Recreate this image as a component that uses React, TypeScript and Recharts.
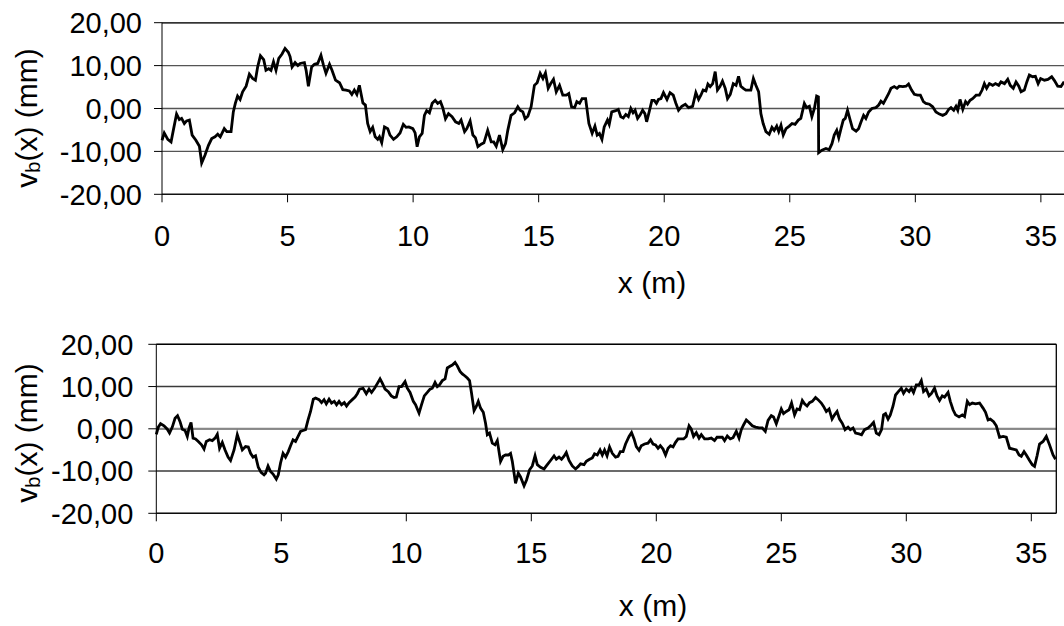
import React from "react";
import {
  LineChart,
  Line,
  XAxis,
  YAxis,
  CartesianGrid,
  ReferenceLine,
} from "recharts";

const xTicks = [0, 5, 10, 15, 20, 25, 30, 35];
const yTicks = [-20, -10, 0, 10, 20];

// upper profile, x in m, v_b in mm
const topX = [
  0.0, 0.09, 0.23, 0.36, 0.45, 0.58, 0.69, 0.78, 0.89, 0.98,
  1.09, 1.2, 1.35, 1.49, 1.58, 1.71, 1.85, 1.98, 2.11, 2.22,
  2.32, 2.48, 2.58, 2.75, 2.84, 2.92, 3.01, 3.11, 3.21, 3.35,
  3.48, 3.61, 3.72, 3.81, 3.92, 4.05, 4.14, 4.25, 4.34, 4.44,
  4.54, 4.65, 4.78, 4.9, 5.03, 5.1, 5.18, 5.3, 5.41, 5.5,
  5.67, 5.74, 5.83, 5.96, 6.07, 6.2, 6.33, 6.43, 6.53, 6.67,
  6.77, 6.91, 7.07, 7.2, 7.33, 7.46, 7.56, 7.66, 7.76, 7.86,
  8.0, 8.1, 8.19, 8.29, 8.39, 8.49, 8.59, 8.66, 8.75, 8.86,
  8.99, 9.08, 9.22, 9.35, 9.48, 9.61, 9.72, 9.83, 9.99, 10.08,
  10.16, 10.25, 10.36, 10.45, 10.54, 10.65, 10.76, 10.88, 10.98, 11.09,
  11.18, 11.29, 11.41, 11.55, 11.69, 11.82, 11.91, 12.05, 12.14, 12.27,
  12.38, 12.48, 12.58, 12.71, 12.82, 12.97, 13.11, 13.21, 13.31, 13.44,
  13.57, 13.68, 13.77, 13.9, 14.04, 14.17, 14.26, 14.37, 14.46, 14.57,
  14.7, 14.83, 14.94, 15.06, 15.17, 15.27, 15.38, 15.47, 15.59, 15.7,
  15.83, 15.96, 16.1, 16.2, 16.31, 16.43, 16.52, 16.63, 16.73, 16.87,
  17.0, 17.13, 17.24, 17.33, 17.42, 17.52, 17.61, 17.74, 17.81, 17.91,
  18.07, 18.17, 18.27, 18.37, 18.47, 18.57, 18.67, 18.76, 18.84, 18.94,
  19.03, 19.14, 19.23, 19.3, 19.4, 19.51, 19.6, 19.69, 19.77, 19.87,
  19.97, 20.11, 20.23, 20.36, 20.46, 20.57, 20.7, 20.84, 20.97, 21.13,
  21.26, 21.37, 21.46, 21.55, 21.66, 21.74, 21.83, 21.93, 22.03, 22.12,
  22.22, 22.32, 22.43, 22.52, 22.63, 22.75, 22.86, 22.96, 23.05, 23.15,
  23.25, 23.45, 23.55, 23.65, 23.76, 23.85, 23.94, 24.05, 24.18, 24.29,
  24.38, 24.48, 24.56, 24.65, 24.74, 24.85, 24.98, 25.09, 25.21, 25.34,
  25.44, 25.58, 25.67, 25.78, 25.88, 25.98, 26.07, 26.14, 26.15, 26.28,
  26.44, 26.57, 26.68, 26.77, 26.87, 26.95, 27.04, 27.13, 27.21, 27.3,
  27.4, 27.5, 27.64, 27.74, 27.84, 27.94, 28.03, 28.14, 28.27, 28.43,
  28.54, 28.63, 28.73, 28.83, 28.94, 29.03, 29.16, 29.27, 29.36, 29.5,
  29.63, 29.73, 29.85, 29.96, 30.09, 30.2, 30.32, 30.42, 30.56, 30.69,
  30.82, 30.96, 31.09, 31.22, 31.33, 31.42, 31.53, 31.62, 31.69, 31.78,
  31.89, 32.0, 32.08, 32.18, 32.28, 32.42, 32.55, 32.66, 32.75, 32.84,
  32.95, 33.08, 33.19, 33.32, 33.41, 33.55, 33.68, 33.78, 33.9, 34.01,
  34.12, 34.21, 34.34, 34.44, 34.54, 34.67, 34.78, 34.89, 34.99, 35.14,
  35.28, 35.43, 35.54, 35.67, 35.8, 35.9, 36.0,
];
const topV = [
  -7.4, -5.7, -7.2, -7.8, -5.1, -1.3, -2.6, -2.3, -3.5, -2.9,
  -2.7, -6.2, -7.4, -8.8, -12.7, -10.9, -8.6, -7.0, -6.6, -6.0,
  -6.6, -4.7, -5.4, -5.4, -0.8, 1.2, 2.9, 2.1, 3.9, 5.2,
  8.0, 7.0, 6.6, 9.7, 12.3, 11.4, 8.9, 9.3, 8.9, 10.9,
  8.9, 11.7, 12.7, 14.0, 13.1, 12.1, 9.7, 10.7, 10.0, 10.5,
  10.7, 8.9, 5.2, 9.7, 10.3, 10.5, 12.4, 10.1, 8.2, 10.3,
  8.9, 6.6, 6.0, 4.4, 4.3, 4.1, 3.3, 4.3, 3.3, 5.4,
  1.3, 0.8, -3.5, -5.4, -4.4, -6.6, -7.2, -6.6, -8.0, -4.3,
  -4.7, -6.2, -7.2, -6.6, -5.7, -3.7, -4.4, -4.3, -4.7, -5.7,
  -8.9, -6.6, -5.8, -1.6, -0.5, -1.0, 1.2, 1.9, 1.2, 1.6,
  0.2, -2.4, -1.2, -1.9, -3.1, -3.5, -2.7, -5.4, -4.7, -2.9,
  -6.2, -6.8, -8.9, -8.3, -8.0, -5.1, -7.8, -7.8, -8.8, -6.2,
  -9.6, -8.2, -5.1, -1.6, -1.0, 0.4, -0.4, -0.8, -2.4, -1.8,
  0.4, 5.4, 6.0, 8.2, 7.0, 8.3, 4.7, 5.7, 6.8, 3.9,
  5.4, 3.1, 3.1, 3.5, 0.4, 0.2, 1.6, 1.2, 2.3, 2.3,
  -3.5, -5.8, -4.1, -6.2, -5.8, -7.2, -4.3, -2.7, -3.7, -0.8,
  -0.5, -0.2, -1.9, -2.2, -1.4, -1.9, 0.0, -1.0, -0.4, -2.3,
  -1.6, -0.4, -1.2, -3.1, -0.8, 1.9, 1.9, 1.2, 2.1, 2.3,
  3.7, 2.1, 3.7, 3.1, 1.3, -0.4, 0.5, 1.0, 0.2, 0.5,
  3.7, 2.1, 3.1, 4.3, 4.1, 5.7, 5.1, 5.8, 8.6, 4.3,
  5.1, 6.4, 4.7, 2.3, 3.3, 5.8, 5.4, 7.5, 5.2, 4.7,
  4.3, 4.3, 7.0, 5.4, 3.9, -1.2, -3.5, -5.4, -6.0, -4.4,
  -5.1, -4.1, -5.4, -3.9, -6.2, -4.7, -4.1, -3.5, -3.7, -2.7,
  -2.3, 1.2, 0.2, 0.5, -1.9, 0.0, 2.9, 2.7, -10.3, -9.7,
  -9.3, -9.6, -8.2, -6.2, -5.1, -6.8, -4.7, -2.7, -2.3, -0.4,
  -2.6, -4.7, -5.3, -4.7, -3.1, -1.6, -2.3, -0.8, 0.0, 0.2,
  0.8, 1.7, 1.2, 2.3, 3.5, 4.7, 5.1, 4.7, 5.2, 5.1,
  5.2, 5.7, 4.3, 3.3, 3.1, 3.1, 1.6, 1.2, 1.0, 0.4,
  -0.8, -1.3, -1.6, -1.2, -0.2, 0.2, -0.4, 0.5, -0.4, 2.1,
  -0.2, 1.6, 1.0, 1.9, 2.3, 3.1, 3.1, 4.3, 5.8, 4.7,
  5.8, 5.4, 5.8, 5.4, 6.2, 5.8, 6.8, 5.4, 4.7, 6.2,
  5.2, 3.9, 4.3, 6.2, 7.8, 7.4, 7.5, 5.8, 7.0, 6.6,
  6.8, 7.4, 6.5, 5.2, 5.1, 6.0, 5.8,
];

// lower profile
const bottomX = [
  0.0, 0.08, 0.17, 0.31, 0.44, 0.53, 0.64, 0.75, 0.85, 0.95,
  1.04, 1.15, 1.24, 1.31, 1.39, 1.47, 1.57, 1.68, 1.81, 1.91,
  2.0, 2.13, 2.24, 2.35, 2.44, 2.53, 2.64, 2.75, 2.87, 2.97,
  3.11, 3.24, 3.35, 3.44, 3.57, 3.68, 3.77, 3.87, 3.97, 4.08,
  4.19, 4.31, 4.37, 4.47, 4.57, 4.67, 4.8, 4.88, 4.97, 5.07,
  5.17, 5.28, 5.37, 5.47, 5.57, 5.67, 5.77, 5.87, 5.97, 6.07,
  6.17, 6.28, 6.37, 6.51, 6.61, 6.71, 6.8, 6.91, 7.01, 7.12,
  7.21, 7.31, 7.41, 7.52, 7.61, 7.71, 7.84, 7.95, 8.04, 8.13,
  8.27, 8.4, 8.51, 8.61, 8.73, 8.84, 8.95, 9.04, 9.15, 9.28,
  9.4, 9.51, 9.6, 9.71, 9.81, 9.95, 10.04, 10.15, 10.28, 10.37,
  10.51, 10.61, 10.72, 10.84, 10.95, 11.04, 11.15, 11.24, 11.33, 11.44,
  11.55, 11.64, 11.75, 11.84, 11.95, 12.04, 12.15, 12.24, 12.35, 12.44,
  12.53, 12.61, 12.71, 12.8, 12.88, 12.97, 13.08, 13.17, 13.24, 13.33,
  13.44, 13.55, 13.64, 13.77, 13.87, 13.97, 14.08, 14.17, 14.24, 14.37,
  14.48, 14.57, 14.71, 14.81, 14.93, 15.04, 15.15, 15.24, 15.37, 15.51,
  15.64, 15.77, 15.91, 16.0, 16.11, 16.21, 16.31, 16.4, 16.51, 16.64,
  16.77, 16.88, 16.97, 17.11, 17.2, 17.33, 17.44, 17.53, 17.64, 17.75,
  17.84, 17.93, 18.03, 18.13, 18.24, 18.37, 18.47, 18.56, 18.67, 18.77,
  18.91, 19.01, 19.11, 19.2, 19.31, 19.4, 19.53, 19.67, 19.77, 19.87,
  19.97, 20.07, 20.16, 20.27, 20.37, 20.47, 20.57, 20.67, 20.77, 20.87,
  20.97, 21.09, 21.2, 21.31, 21.4, 21.49, 21.6, 21.71, 21.8, 21.93,
  22.07, 22.2, 22.33, 22.43, 22.53, 22.64, 22.73, 22.84, 22.96, 23.07,
  23.2, 23.31, 23.4, 23.49, 23.6, 23.71, 23.84, 23.97, 24.11, 24.24,
  24.36, 24.47, 24.6, 24.69, 24.8, 24.91, 25.0, 25.09, 25.2, 25.31,
  25.41, 25.53, 25.63, 25.73, 25.84, 25.93, 26.03, 26.13, 26.24, 26.37,
  26.47, 26.6, 26.69, 26.8, 26.91, 27.03, 27.13, 27.23, 27.33, 27.44,
  27.55, 27.67, 27.76, 27.87, 27.97, 28.11, 28.21, 28.33, 28.47, 28.6,
  28.69, 28.8, 28.91, 29.01, 29.09, 29.17, 29.27, 29.36, 29.47, 29.57,
  29.68, 29.8, 29.89, 30.0, 30.11, 30.2, 30.29, 30.4, 30.51, 30.6,
  30.69, 30.8, 30.91, 31.0, 31.13, 31.23, 31.33, 31.44, 31.53, 31.67,
  31.76, 31.87, 31.97, 32.11, 32.24, 32.33, 32.44, 32.53, 32.64, 32.77,
  32.93, 33.07, 33.17, 33.27, 33.36, 33.49, 33.6, 33.73, 33.87, 34.0,
  34.13, 34.27, 34.4, 34.51, 34.6, 34.71, 34.8, 34.93, 35.04, 35.13,
  35.23, 35.33, 35.47, 35.6, 35.73, 35.87, 35.97,
];
const bottomV = [
  -1.3, 0.4, 1.2, 0.7, -0.1, -1.0, 0.4, 2.5, 3.1, 1.7,
  -0.1, -0.4, -1.8, 0.2, 1.5, -2.2, -2.4, -3.0, -3.8, -4.8,
  -3.0, -2.6, -2.8, -2.2, -1.3, -4.6, -3.2, -5.0, -6.7, -7.5,
  -5.0, -1.4, -3.4, -5.0, -4.2, -4.3, -5.8, -6.7, -6.4, -9.1,
  -10.3, -10.9, -10.5, -8.8, -10.1, -10.7, -11.9, -10.9, -8.1, -5.8,
  -6.7, -5.4, -4.0, -2.6, -3.0, -1.8, -0.6, -0.4, -0.2, 2.1,
  4.1, 7.0, 7.3, 6.9, 6.2, 6.9, 5.9, 7.0, 6.1, 6.5,
  5.7, 6.5, 5.7, 6.2, 5.4, 6.2, 6.9, 7.5, 8.3, 9.4,
  9.6, 8.3, 9.4, 8.6, 9.6, 10.7, 11.8, 10.8, 9.4, 8.8,
  7.8, 7.4, 7.5, 10.0, 10.0, 11.2, 9.6, 8.6, 6.5, 5.7,
  3.7, 5.7, 7.8, 8.6, 9.4, 9.6, 11.0, 10.0, 10.4, 11.4,
  11.8, 14.4, 14.8, 15.1, 15.7, 14.9, 13.6, 13.0, 12.5, 12.0,
  11.4, 8.4, 4.3, 5.3, 6.5, 4.9, 3.9, 1.3, -1.4, -1.0,
  -3.4, -3.8, -2.8, -7.7, -6.5, -6.2, -6.2, -5.8, -7.7, -12.9,
  -10.5, -11.4, -13.5, -12.1, -9.7, -8.8, -6.4, -8.5, -9.1, -9.5,
  -8.5, -7.5, -6.4, -7.2, -6.7, -7.2, -6.5, -5.6, -7.5, -8.8,
  -9.5, -8.9, -8.3, -8.5, -7.7, -7.2, -6.9, -5.9, -6.2, -5.0,
  -6.2, -5.0, -6.4, -4.3, -5.8, -6.7, -6.5, -5.4, -5.4, -3.6,
  -1.8, -0.9, -2.4, -4.2, -5.1, -4.0, -3.6, -3.4, -2.6, -3.6,
  -3.8, -4.6, -4.0, -4.8, -6.2, -4.6, -4.0, -4.3, -3.2, -2.4,
  -2.4, -2.4, -1.8, 0.7, -0.1, -1.8, -0.9, -2.2, -1.4, -2.4,
  -2.4, -2.2, -2.8, -2.0, -2.0, -2.0, -2.8, -1.7, -2.4, -2.1,
  -0.6, -2.2, -0.2, 0.9, 2.1, 1.5, 0.7, 0.4, 0.2, 0.2,
  -0.6, 2.0, 3.1, 2.8, 1.2, 3.1, 4.7, 3.6, 4.1, 4.5,
  6.1, 3.3, 4.7, 4.5, 6.7, 5.9, 5.4, 6.2, 6.5, 7.4,
  6.9, 6.1, 5.3, 4.1, 4.7, 2.3, 3.3, 4.1, 2.3, 1.3,
  -0.2, 0.4, -0.2, 0.2, -1.0, -1.2, -1.4, -0.2, 0.2, 0.9,
  1.5, -1.0, -1.4, -0.2, 3.3, 3.6, 2.3, 3.3, 5.4, 8.0,
  8.8, 9.6, 8.4, 9.4, 8.8, 9.6, 8.6, 10.4, 10.4, 11.4,
  8.8, 9.4, 7.8, 8.3, 9.6, 7.8, 6.7, 7.8, 7.5, 8.6,
  6.5, 4.5, 3.3, 2.8, 3.3, 2.9, 6.5, 5.7, 6.1, 5.9,
  6.1, 4.9, 3.9, 2.1, 2.3, 1.7, 0.7, -2.0, -1.8, -2.0,
  -4.6, -4.8, -5.0, -6.2, -6.5, -5.4, -6.2, -7.5, -8.5, -8.9,
  -6.4, -3.6, -3.0, -1.8, -3.8, -6.2, -7.2,
];

const FONT = "'Liberation Sans', Arial, sans-serif";
const FS = 29;
const TITLE_FS = 30;

const fmt = (v: number) => v.toFixed(2).replace(".", ",");
const toRows = (xs: number[], vs: number[]) =>
  xs.map((x, i) => ({ x, v: vs[i] }));

const topRows = toRows(topX, topV);
const bottomRows = toRows(bottomX, bottomV);

const tickStyle = { fill: "#000", fontSize: FS, fontFamily: FONT };

const xTitle = (x: number, y: number) => () =>
  (
    <text x={x} y={y} textAnchor="middle" fontSize={TITLE_FS} fontFamily={FONT} fill="#000">
      x (m)
    </text>
  );

const yTitle = (x: number, y: number) => () =>
  (
    <text
      x={x}
      y={y}
      transform={`rotate(-90 ${x} ${y})`}
      textAnchor="middle"
      dominantBaseline="central"
      fontSize={TITLE_FS}
      fontFamily={FONT}
      fill="#000"
    >
      v
      <tspan fontSize={20} dy={7}>
        b
      </tspan>
      <tspan dy={-7}>(x) (mm)</tspan>
    </text>
  );

export default function App() {
  return (
    <div
      style={{
        position: "absolute",
        left: 0,
        top: 0,
        width: 1064,
        height: 626,
        overflow: "hidden",
        background: "#fff",
      }}
    >
      <div style={{ position: "absolute", left: 0, top: 0 }}>
        <LineChart
          width={1100}
          height={300}
          data={topRows}
          margin={{ top: 22.7, right: 34, bottom: 0, left: 0 }}
        >
          <CartesianGrid vertical={false} stroke="#555" strokeWidth={1.4} />
          <XAxis
            dataKey="x"
            type="number"
            domain={[0, 36]}
            ticks={xTicks}
            interval={0}
            height={105.7}
            tickSize={8}
            tickMargin={23}
            stroke="#000"
            tick={tickStyle}
            label={xTitle(652, 293)}
          />
          <YAxis
            type="number"
            domain={[-20, 20]}
            ticks={yTicks}
            interval={0}
            width={162}
            tickSize={8}
            tickMargin={12}
            stroke="#000"
            tick={tickStyle}
            tickFormatter={fmt}
            label={yTitle(26, 118)}
          />
          <ReferenceLine y={20} stroke="#333" strokeWidth={1.5} />
          <Line
            dataKey="v"
            type="linear"
            stroke="#000"
            strokeWidth={2.8}
            dot={false}
            isAnimationActive={false}
          />
        </LineChart>
      </div>
      <div style={{ position: "absolute", left: 0, top: 320 }}>
        <LineChart
          width={1064}
          height={306}
          data={bottomRows}
          margin={{ top: 24.3, right: 7.7, bottom: 0, left: 0 }}
        >
          <CartesianGrid vertical={false} stroke="#3a3a3a" strokeWidth={1.4} />
          <XAxis
            dataKey="x"
            type="number"
            domain={[0, 36]}
            ticks={xTicks}
            interval={0}
            height={112.7}
            tickSize={8}
            tickMargin={21}
            stroke="#000"
            tick={tickStyle}
            label={xTitle(653, 296)}
          />
          <YAxis
            type="number"
            domain={[-20, 20]}
            ticks={yTicks}
            interval={0}
            width={156.3}
            tickSize={8}
            tickMargin={15}
            stroke="#000"
            tick={tickStyle}
            tickFormatter={fmt}
            label={yTitle(26, 113)}
          />
          <ReferenceLine y={0} stroke="#888" strokeWidth={2} />
          <ReferenceLine y={20} stroke="#000" strokeWidth={1.3} />
          <ReferenceLine x={36} stroke="#000" strokeWidth={1.3} />
          <Line
            dataKey="v"
            type="linear"
            stroke="#000"
            strokeWidth={2.8}
            dot={false}
            isAnimationActive={false}
          />
        </LineChart>
      </div>
    </div>
  );
}
